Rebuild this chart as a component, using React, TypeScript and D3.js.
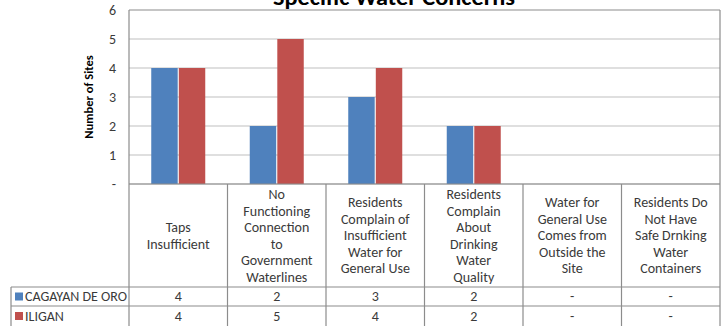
import React from "react";
import * as d3 from "d3";

const categories = [
  "Taps\nInsufficient",
  "No\nFunctioning\nConnection\nto\nGovernment\nWaterlines",
  "Residents\nComplain of\nInsufficient\nWater for\nGeneral Use",
  "Residents\nComplain\nAbout\nDrinking\nWater\nQuality",
  "Water for\nGeneral Use\nComes from\nOutside the\nSite",
  "Residents Do\nNot Have\nSafe Drnking\nWater\nContainers",
];
const seriesNames = ["CAGAYAN DE ORO", "ILIGAN"];
const cagayanDeOro = [4, 2, 3, 2, 0, 0];
const iligan = [4, 5, 4, 2, 0, 0];
const yTicks = [0, 1, 2, 3, 4, 5, 6];
const title = "Specific Water Concerns";
const yTitle = "Number of Sites";

const colors = ["#4F81BD", "#C0504D"];
const FONT = "Carlito, Lato, 'Open Sans', sans-serif";

export default function App() {
  const W = 723;
  const H = 326;
  const plotL = 129;
  const plotR = 720;
  const plotT = 10;
  const plotB = 184;
  const headerB = 287;
  const row1B = 306;
  const row2B = 326;
  const tableL = 11;

  const series = [cagayanDeOro, iligan];

  const x = d3.scaleBand<string>().domain(categories).range([plotL, plotR]);
  const y = d3.scaleLinear().domain([0, 6]).range([plotB, plotT]);
  const inner = d3
    .scaleBand<number>()
    .domain([0, 1])
    .range([0, 54])
    .paddingInner(0.04);

  const fmt = (v: number) => (v === 0 ? "-" : String(v));
  const gridColor = "#BFBFBF";
  const tableColor = "#8C8C8C";
  const textColor = "#3A3A3A";

  return (
    <svg
      width={W}
      height={H}
      style={{ position: "absolute", left: 0, top: 0, background: "#fff" }}
      fontFamily={FONT}
    >
      {/* title, partly clipped by the top edge */}
      <text
        x={394}
        y={5}
        textAnchor="middle"
        fontSize={23}
        fontWeight="bold"
        fill="#000"
        textLength={242}
        lengthAdjust="spacingAndGlyphs"
      >
        {title}
      </text>

      {/* gridlines */}
      {yTicks.map((t) => (
        <line
          key={"g" + t}
          x1={plotL}
          x2={plotR}
          y1={y(t)}
          y2={y(t)}
          stroke={t === 6 ? tableColor : gridColor}
          strokeWidth={1.2}
        />
      ))}

      {/* y tick labels */}
      {yTicks.map((t) => (
        <text
          key={"t" + t}
          x={116}
          y={y(t)}
          dy="0.35em"
          textAnchor="end"
          fontSize={14}
          fill={textColor}
        >
          {t === 0 ? "-" : t}
        </text>
      ))}

      {/* y axis title */}
      <text
        transform={`translate(93,${(plotT + plotB) / 2}) rotate(-90)`}
        textAnchor="middle"
        fontSize={12.5}
        fontWeight="bold"
        fill="#000"
      >
        {yTitle}
      </text>

      {/* bars */}
      {categories.map((c, i) => {
        const cx = (x(c) as number) + x.bandwidth() / 2;
        return series.map((s, k) =>
          s[i] > 0 ? (
            <rect
              key={c + k}
              x={cx - 27 + (inner(k) as number)}
              y={y(s[i])}
              width={inner.bandwidth()}
              height={y(0) - y(s[i])}
              fill={colors[k]}
            />
          ) : null
        );
      })}

      {/* plot border */}
      <line x1={plotL} x2={plotL} y1={plotT} y2={H} stroke={tableColor} strokeWidth={1.2} />
      <line x1={plotR} x2={plotR} y1={plotT} y2={H} stroke={tableColor} strokeWidth={1.2} />

      {/* data table */}
      {categories.map((c, i) =>
        i > 0 ? (
          <line
            key={"v" + i}
            x1={x(c)}
            x2={x(c)}
            y1={plotB}
            y2={H}
            stroke={tableColor}
            strokeWidth={1.2}
          />
        ) : null
      )}
      <line x1={plotL} x2={plotR} y1={plotB} y2={plotB} stroke={tableColor} strokeWidth={1.2} />
      <line x1={tableL} x2={plotR} y1={headerB} y2={headerB} stroke={tableColor} strokeWidth={1.2} />
      <line x1={tableL} x2={plotR} y1={row1B} y2={row1B} stroke={tableColor} strokeWidth={1.2} />
      <line x1={tableL} x2={tableL} y1={headerB} y2={H} stroke={tableColor} strokeWidth={1.2} />

      {/* header cells */}
      {categories.map((c) => {
        const lines = c.split("\n");
        const lh = 16.5;
        const cx = (x(c) as number) + x.bandwidth() / 2;
        const cy = (plotB + headerB) / 2;
        const y0 = cy - ((lines.length - 1) * lh) / 2;
        return (
          <text key={"h" + c} textAnchor="middle" fontSize={14} fill={textColor}>
            {lines.map((l, j) => (
              <tspan key={j} x={cx} y={y0 + j * lh} dy="0.35em">
                {l}
              </tspan>
            ))}
          </text>
        );
      })}

      {/* legend column and values */}
      {seriesNames.map((name, k) => {
        const top = k === 0 ? headerB : row1B;
        const bot = k === 0 ? row1B : row2B;
        const cy = (top + bot) / 2;
        return (
          <g key={name}>
            <rect x={15} y={cy - 4} width={8} height={8} fill={colors[k]} />
            <text x={25} y={cy} dy="0.35em" fontSize={14} fill={textColor}>
              {name}
            </text>
            {categories.map((c, i) => (
              <text
                key={c}
                x={(x(c) as number) + x.bandwidth() / 2}
                y={cy}
                dy="0.35em"
                textAnchor="middle"
                fontSize={14}
                fill={textColor}
              >
                {fmt(series[k][i])}
              </text>
            ))}
          </g>
        );
      })}
    </svg>
  );
}
